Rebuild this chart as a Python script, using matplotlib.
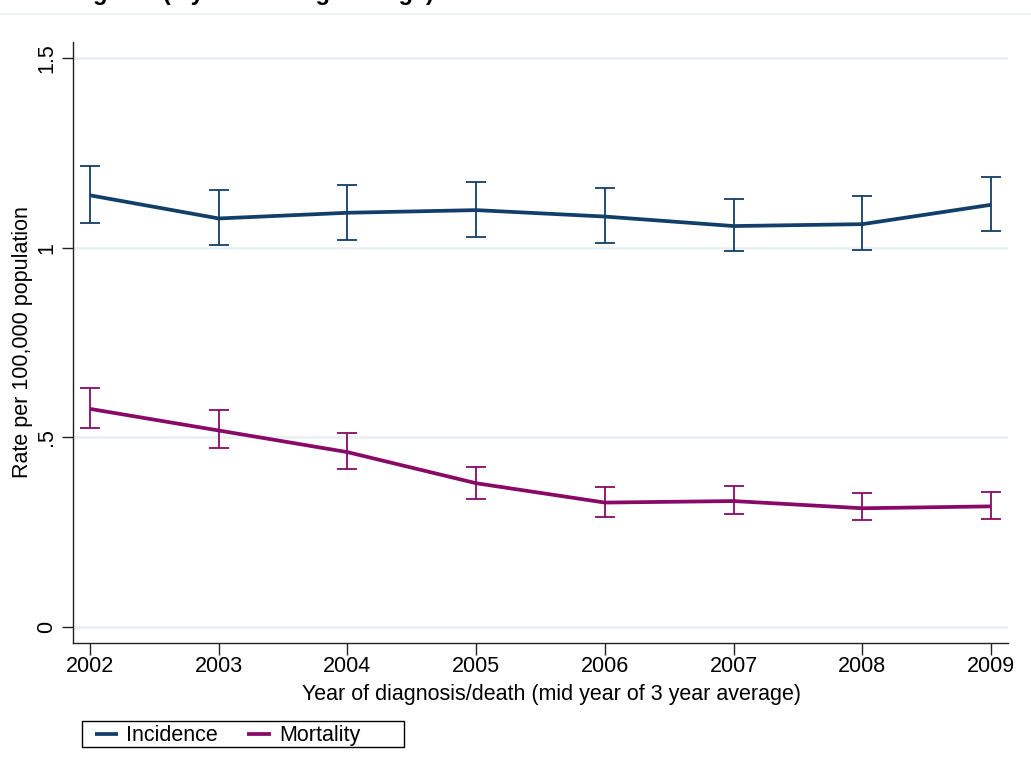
import matplotlib
matplotlib.use("Agg")
import matplotlib.pyplot as plt
from matplotlib.lines import Line2D
from matplotlib.patches import Rectangle
import numpy as np

plt.rcParams['font.family'] = ['Liberation Sans', 'DejaVu Sans']

# ---- data -------------------------------------------------------------
years = [2002, 2003, 2004, 2005, 2006, 2007, 2008, 2009]

incidence = [1.138, 1.077, 1.092, 1.099, 1.082, 1.057, 1.062, 1.113]
incidence_lo = [1.066, 1.006, 1.020, 1.028, 1.013, 0.990, 0.994, 1.044]
incidence_hi = [1.216, 1.152, 1.166, 1.173, 1.157, 1.129, 1.135, 1.187]

mortality = [0.575, 0.518, 0.461, 0.379, 0.328, 0.332, 0.313, 0.318]
mortality_lo = [0.524, 0.471, 0.416, 0.337, 0.291, 0.297, 0.281, 0.285]
mortality_hi = [0.630, 0.571, 0.511, 0.421, 0.368, 0.373, 0.353, 0.357]

y_ticks = [0, 0.5, 1, 1.5]
y_tick_labels = ["0", ".5", "1", "1.5"]

series_names = ["Incidence", "Mortality"]
series_colors = ["#123f6a", "#880a66"]

title_text = "Incidence and mortality rates in England (3 year moving average)"
x_label = "Year of diagnosis/death (mid year of 3 year average)"
y_label = "Rate per 100,000 population"

# ---- figure -----------------------------------------------------------
W, H = 1031, 774
fig = plt.figure(figsize=(W / 100, H / 100), dpi=100)
fig.patch.set_facecolor("white")


def fx(px):
    return px / W


def fy(py):
    return 1 - py / H


ax = fig.add_axes([fx(73), fy(643), fx(1008) - fx(73), fy(42) - fy(643)])
ax.set_facecolor("white")

FS = 15.5
grid_col = "#e8eff1"
axis_col = "#222222"

series = [
    (incidence, incidence_lo, incidence_hi),
    (mortality, mortality_lo, mortality_hi),
]
for (vals, lo, hi), col in zip(series, series_colors):
    v = np.asarray(vals)
    yerr = [v - np.asarray(lo), np.asarray(hi) - v]
    ax.errorbar(years, v, yerr=yerr, fmt="none", ecolor=col,
                elinewidth=1.3, capsize=7.5, capthick=1.3, zorder=3)
    ax.plot(years, v, color=col, lw=2.7, solid_capstyle="butt", zorder=4)

ax.set_xlim(2001.868, 2009.132)
ax.set_ylim(-0.0422, 1.5422)

ax.set_xticks(years)
ax.set_xticklabels([str(y) for y in years], fontsize=FS)
ax.set_yticks(y_ticks)
ax.set_yticklabels(y_tick_labels, fontsize=FS, rotation=90, va="center")

ax.tick_params(axis="x", length=8.6, width=1.0, color=axis_col, pad=0.8,
               direction="out")
ax.tick_params(axis="y", length=8.0, width=1.0, color=axis_col, pad=3.2,
               direction="out")

ax.yaxis.grid(True, color=grid_col, lw=1.8)
ax.set_axisbelow(True)

for side in ("top", "right"):
    ax.spines[side].set_visible(False)
for side in ("left", "bottom"):
    ax.spines[side].set_color(axis_col)
    ax.spines[side].set_linewidth(1.0)

# axis titles
fig.text(fx(551), fy(700), x_label, fontsize=FS, ha="center", va="baseline")
fig.text(fx(28), fy(342), y_label, fontsize=FS, ha="center",
         va="baseline", rotation=90, rotation_mode="anchor")

# title, running off the top edge of the canvas
fig.text(fx(434), fy(0.3), title_text, fontsize=17, fontweight="bold",
         ha="right", va="baseline")
fig.add_artist(Line2D([0, 1], [fy(14), fy(14)], color="#e8eff1", lw=1.2))

# legend
fig.add_artist(Rectangle((fx(82), fy(747)), fx(404) - fx(82),
                         fy(721) - fy(747), fill=False, ec="black", lw=1.0))
legend_items = [(95, 118, 126), (247, 271, 279)]
for (l0, l1, tx), name, col in zip(legend_items, series_names, series_colors):
    fig.add_artist(Line2D([fx(l0), fx(l1)], [fy(734), fy(734)], color=col,
                          lw=2.7, solid_capstyle="butt"))
    fig.text(fx(tx), fy(741), name, fontsize=FS, ha="left", va="baseline")

fig.savefig("out.png", dpi=100, facecolor="white")
